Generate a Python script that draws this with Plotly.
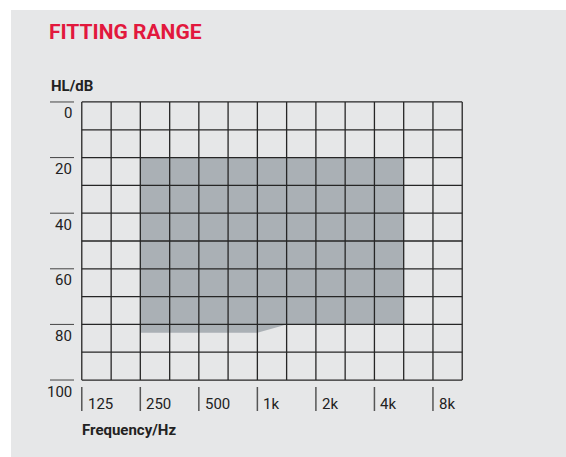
import numpy as np
import plotly.graph_objects as go

# Grid of the audiogram (half-octave columns, 10 dB rows)
grid_freqs = [125, 177, 250, 354, 500, 707, 1000, 1414, 2000, 2828, 4000, 5657, 8000, 11314]
grid_levels = [0, 10, 20, 30, 40, 50, 60, 70, 80, 90, 100]

# Axis labels
x_tick_freqs = [125, 250, 500, 1000, 2000, 4000, 8000]
x_tick_labels = ["125", "250", "500", "1k", "2k", "4k", "8k"]
y_tick_levels = [0, 20, 40, 60, 80, 100]

# Fitting range (upper and lower limit, dB HL)
range_freqs = [250, 1000, 1414, 5657]
range_upper = [20, 20, 20, 20]
range_lower = [83, 83, 80, 80]

W, H = 566, 457
L, R, T, B = 81, 463, 101, 381
pw, ph = R - L, B - T


def px(x):
    return (x - L) / pw


def py(y):
    return (B - y) / ph


font_lab = "Roboto, Liberation Sans, sans-serif"
grid_col = "#262626"

fig = go.Figure()

# Shaded fitting range
fig.add_trace(go.Scatter(
    x=range_freqs + range_freqs[::-1],
    y=range_upper + range_lower[::-1],
    fill="toself", fillcolor="#aab0b5",
    mode="lines", line=dict(width=0),
    hoverinfo="skip", showlegend=False
))

# Grid lines drawn on top of the range
gx, gy = [], []
for f in grid_freqs:
    gx += [f, f, None]
    gy += [grid_levels[0], grid_levels[-1], None]
for h in grid_levels:
    gx += [grid_freqs[0], grid_freqs[-1], None]
    gy += [h, h, None]
fig.add_trace(go.Scatter(
    x=gx, y=gy, mode="lines",
    line=dict(color=grid_col, width=1.3),
    hoverinfo="skip", showlegend=False
))

shapes = [dict(type="rect", xref="paper", yref="paper", layer="below",
               x0=px(11), x1=px(W), y0=py(H), y1=py(10),
               fillcolor="#e6e7e8", line=dict(width=0))]
annotations = []

for v in y_tick_levels:
    shapes.append(dict(type="line", xref="paper", yref="y",
                       x0=px(50), x1=px(74), y0=v, y1=v,
                       line=dict(color="#444", width=1)))
    annotations.append(dict(text=str(v), xref="paper", yref="y", x=px(74), y=v,
                            xanchor="right", yanchor="middle", yshift=-11.5,
                            showarrow=False, font=dict(family=font_lab, size=15, color="#222")))

for f, lab in zip(x_tick_freqs, x_tick_labels):
    shapes.append(dict(type="line", xref="x", yref="paper",
                       x0=f, x1=f, y0=py(387), y1=py(411),
                       line=dict(color="#555", width=1.5)))
    annotations.append(dict(text=lab, xref="x", yref="paper", x=np.log10(f), y=py(404),
                            xanchor="left", yanchor="middle", xshift=4,
                            showarrow=False, font=dict(family=font_lab, size=15, color="#222")))

annotations.append(dict(text="<b>HL/dB</b>", xref="paper", yref="paper", x=px(49), y=py(86),
                        xanchor="left", yanchor="middle", showarrow=False,
                        font=dict(family=font_lab, size=15, color="#222")))
annotations.append(dict(text="<b>Frequency/Hz</b>", xref="paper", yref="paper", x=px(80), y=py(430),
                        xanchor="left", yanchor="middle", showarrow=False,
                        font=dict(family=font_lab, size=15, color="#222")))

pad_x = 0.004
pad_y = 0.35
fig.update_layout(
    width=W, height=H,
    margin=dict(l=L, r=W - R, t=T, b=H - B, pad=0),
    paper_bgcolor="white", plot_bgcolor="rgba(0,0,0,0)",
    title=dict(text="<b>FITTING RANGE</b>", x=49 / W, y=1 - 32 / H,
               xanchor="left", yanchor="middle", xref="container", yref="container",
               font=dict(family=font_lab, size=21, color="#e2183d")),
    xaxis=dict(type="log", range=[np.log10(grid_freqs[0]) - pad_x, np.log10(grid_freqs[-1]) + pad_x],
               showgrid=False, zeroline=False, showticklabels=False, ticks="", fixedrange=True),
    yaxis=dict(range=[grid_levels[-1] + pad_y, grid_levels[0] - pad_y],
               showgrid=False, zeroline=False, showticklabels=False, ticks="", fixedrange=True),
    shapes=shapes, annotations=annotations,
)

fig.write_html("out.html", config={"displayModeBar": False},
               post_script="document.body.style.margin='0';")
